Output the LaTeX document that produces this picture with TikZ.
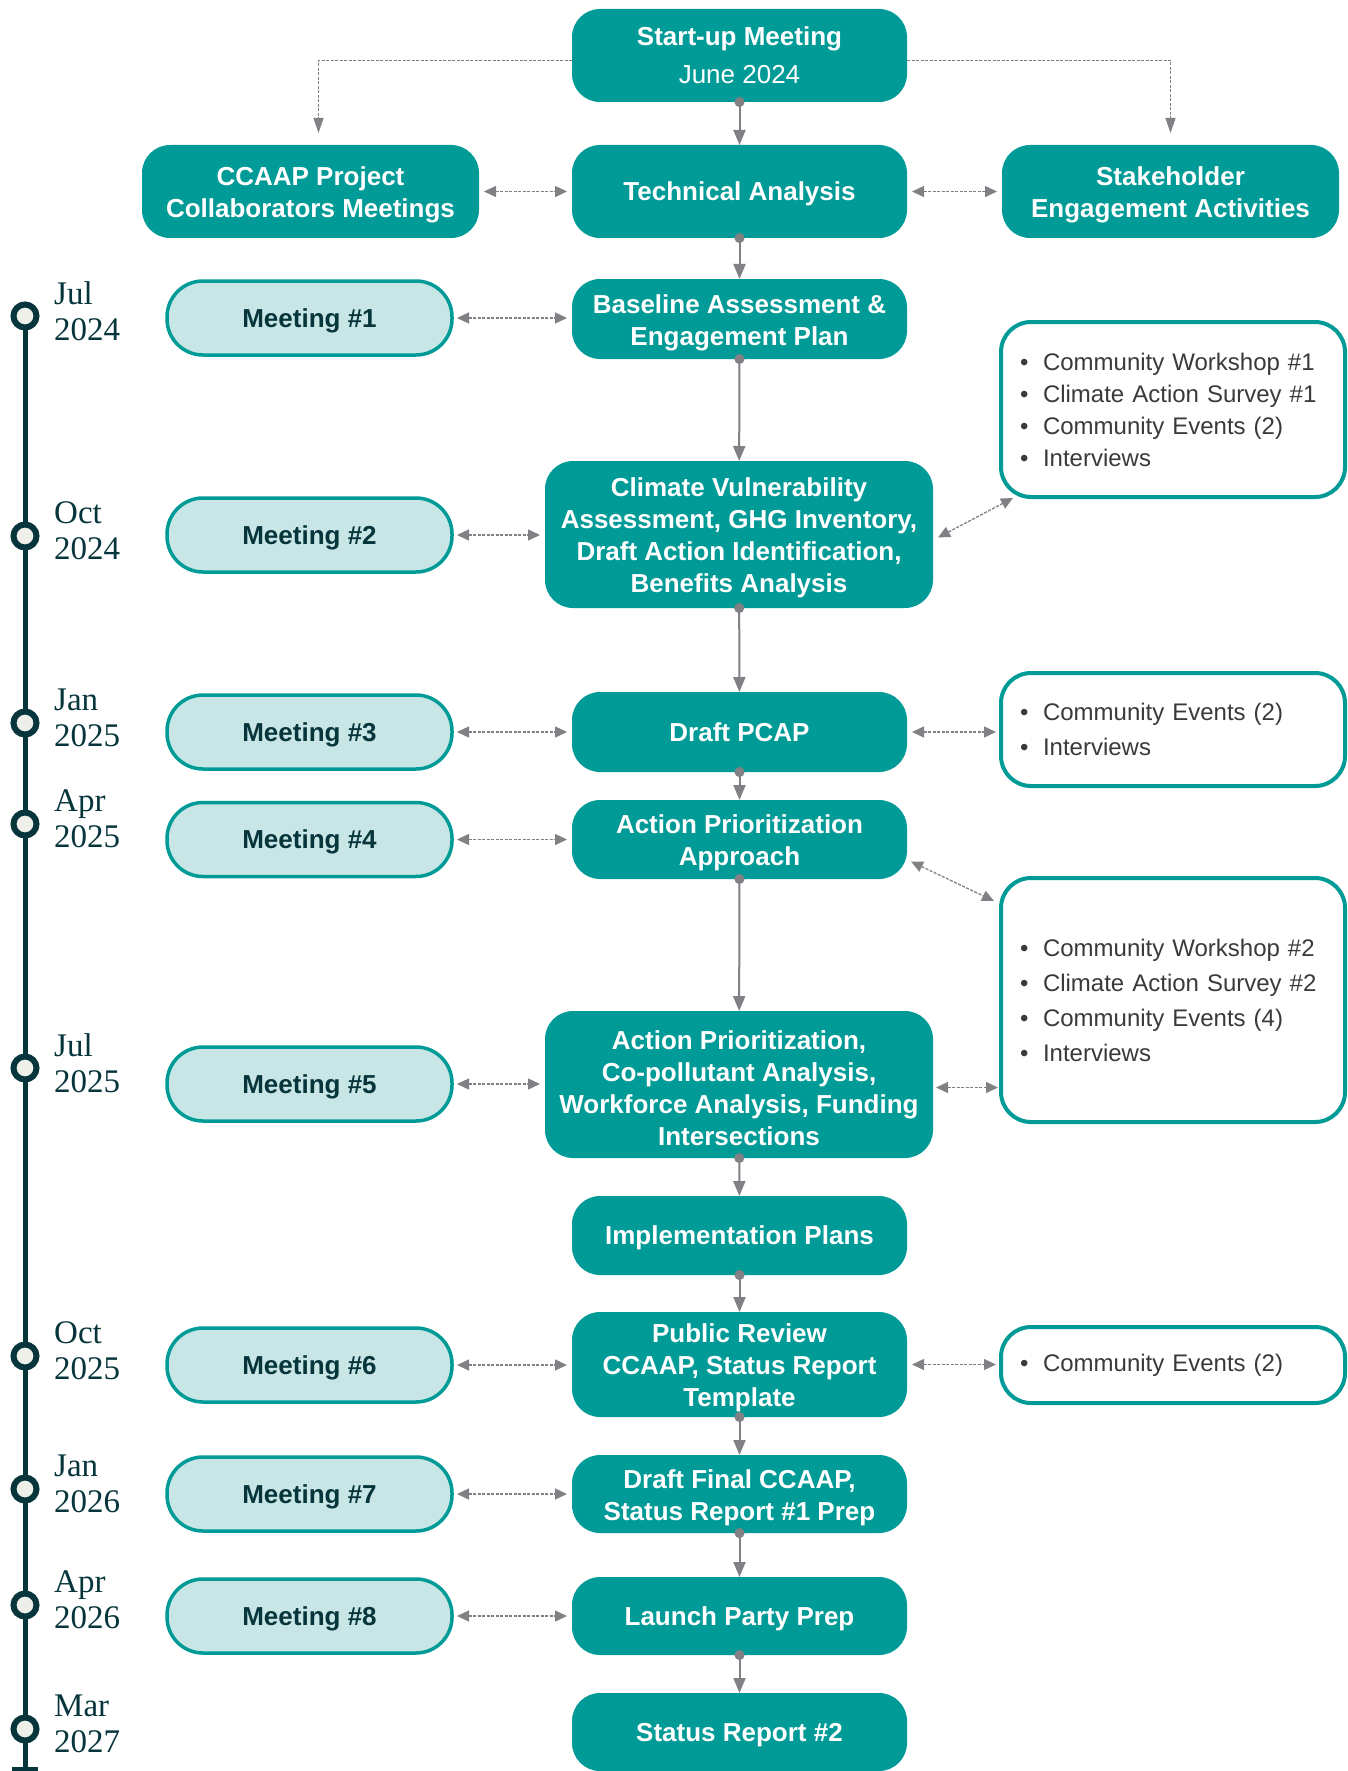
\documentclass[tikz,border=0pt]{standalone}
\usepackage{fontspec}
\newfontfamily\sansf{Liberation Sans}
\newfontfamily\seriff{Liberation Serif}
\usetikzlibrary{arrows.meta}
\definecolor{tealA}{HTML}{009A97}
\definecolor{meetfill}{HTML}{C8E6E5}
\definecolor{darkT}{HTML}{07353C}
\definecolor{dotfill}{HTML}{EFEFEA}
\definecolor{arrowG}{HTML}{808085}
\definecolor{bultext}{HTML}{3A3A3A}
\newcommand{\bl}{\makebox[23pt][l]{\textbullet}}
\newcommand{\tp}{\rule{0pt}{26pt}}
\begin{document}
\begin{tikzpicture}[x=1pt,y=-1pt,
  mainbox/.style={rectangle, rounded corners=28pt, fill=tealA, text=white,
    font=\sansf\bfseries\fontsize{26}{32}\selectfont, align=center,
    minimum width=335pt, minimum height=#1, inner sep=0pt, outer sep=0pt},
  oneline/.style={text height=18.6pt, text depth=0pt},
  meet/.style={rectangle, rounded corners=36pt, fill=meetfill, draw=tealA, line width=3.5pt,
    text=darkT, font=\sansf\bfseries\fontsize{26}{32}\selectfont,
    minimum width=285pt, minimum height=74pt, inner sep=0pt, outer sep=0pt, oneline},
  bbox/.style={rectangle, rounded corners=30pt, fill=white, draw=tealA, line width=4pt,
    text=bultext, align=left, text width=306pt, inner xsep=19pt, inner ysep=0pt,
    minimum height=#1, outer sep=0pt},
  datelbl/.style={anchor=west, align=left, text=darkT, inner sep=0pt,
    font=\seriff\fontsize{33}{36}\selectfont},
  tlcirc/.style={circle, draw=darkT, fill=dotfill, line width=6pt, minimum size=23pt, inner sep=0pt},
  tline/.style={draw=darkT, line width=5pt},
  flow/.style={draw=arrowG, line width=2pt, {Circle[length=10pt]}-{Triangle[length=15pt,width=12pt]}, shorten <=-5pt},
  dbl/.style={draw=arrowG, line width=1.3pt, dash pattern=on 3pt off 1.5pt,
    {Triangle[length=12pt,width=11pt]}-{Triangle[length=12pt,width=11pt]}, shorten <=5pt, shorten >=5pt},
  dbln/.style={draw=arrowG, line width=1.3pt, dash pattern=on 3pt off 1.5pt,
    {Triangle[length=12pt,width=11pt]}-{Triangle[length=12pt,width=11pt]}},
  dsh/.style={draw=arrowG, line width=1.1pt, dash pattern=on 3pt off 1.5pt,
    -{Triangle[length=15pt,width=10pt]}}
]
\useasboundingbox (0,0) rectangle (1348,1771);

% timeline
\coordinate (tltop) at (25,316);
\coordinate (tlbot) at (25,1769);
\draw[tline] (tltop) -- (tlbot);
\draw[tline] ([xshift=-13pt]tlbot) -- ([xshift=13pt]tlbot);
\foreach \yy/\mm/\yr [count=\i] in {316/Jul/2024, 536/Oct/2024, 723/Jan/2025, 824/Apr/2025,
    1068/Jul/2025, 1356/Oct/2025, 1489/Jan/2026, 1605/Apr/2026, 1729/Mar/2027}{
  \node[tlcirc] (k\i) at (25,\yy) {};
  \node[datelbl] (d\i) at (54,\yy-5) {\mm\\\yr};
}

% main column
\node[mainbox=93pt] (start) at (739.5,55.5) {Start-up Meeting\\[6pt]{\mdseries June 2024}};
\node[mainbox=93pt, oneline] (tech) at (739.5,191.5) {Technical Analysis};
\node[mainbox=93pt, minimum width=337pt] (ccaap) at (310.5,191.5) {\tp CCAAP Project\\Collaborators Meetings};
\node[mainbox=93pt, minimum width=337pt] (stake) at (1170.5,191.5) {\tp Stakeholder\\Engagement Activities};
\node[mainbox=80pt] (base) at (739.5,319) {\tp Baseline Assessment \&\\Engagement Plan};
\node[mainbox=147pt, minimum width=388pt] (climate) at (739,534.5) {\tp Climate Vulnerability\\Assessment, GHG Inventory,\\Draft Action Identification,\\Benefits Analysis};
\node[mainbox=80pt, oneline] (pcap) at (739.5,732) {Draft PCAP};
\node[mainbox=79pt] (apa) at (739.5,839.5) {\tp Action Prioritization\\Approach};
\node[mainbox=147pt, minimum width=388pt] (ap) at (739,1084.5) {\tp Action Prioritization,\\Co-pollutant Analysis,\\Workforce Analysis, Funding\\Intersections};
\node[mainbox=79pt, oneline] (impl) at (739.5,1235.5) {Implementation Plans};
\node[mainbox=105pt] (pub) at (739.5,1364.5) {\tp Public Review\\CCAAP, Status Report\\Template};
\node[mainbox=78pt] (dfinal) at (739.5,1494) {\tp Draft Final CCAAP,\\Status Report \#1 Prep};
\node[mainbox=78pt, oneline] (launch) at (739.5,1616) {Launch Party Prep};
\node[mainbox=78pt, oneline] (status) at (739.5,1732) {Status Report \#2};

% meetings
\node[meet] (m1) at (309.5,318) {Meeting \#1};
\node[meet] (m2) at (309.5,535) {Meeting \#2};
\node[meet] (m3) at (309.5,732) {Meeting \#3};
\node[meet] (m4) at (309.5,839.5) {Meeting \#4};
\node[meet] (m5) at (309.5,1084) {Meeting \#5};
\node[meet] (m6) at (309.5,1365) {Meeting \#6};
\node[meet] (m7) at (309.5,1494) {Meeting \#7};
\node[meet] (m8) at (309.5,1616) {Meeting \#8};

% bullet boxes
\node[bbox=175pt, font=\sansf\fontsize{24}{32}\selectfont] (ba) at (1173,409.5)
  {\bl Community Workshop \#1\\\bl Climate Action Survey \#1\\\bl Community Events (2)\\\bl Interviews};
\node[bbox=113pt, font=\sansf\fontsize{24}{35}\selectfont] (bb) at (1173,729.5)
  {\bl Community Events (2)\\\bl Interviews};
\node[bbox=244pt, font=\sansf\fontsize{24}{35}\selectfont] (bc) at (1173,1000)
  {\bl Community Workshop \#2\\\bl Climate Action Survey \#2\\\bl Community Events (4)\\\bl Interviews};
\node[bbox=76pt, font=\sansf\fontsize{24}{35}\selectfont] (bd) at (1173,1365)
  {\bl Community Events (2)};

% main flow
\draw[flow] (start) -- (tech);
\draw[flow] (tech) -- (base);
\draw[flow] (base) -- (climate);
\draw[flow] (climate) -- (pcap);
\draw[flow] (pcap) -- (apa);
\draw[flow] (apa) -- (ap);
\draw[flow] (ap) -- (impl);
\draw[flow] (impl) -- (pub);
\draw[flow] (pub) -- (dfinal);
\draw[flow] (dfinal) -- (launch);
\draw[flow] (launch) -- (status);

% top elbows
\draw[dsh] ([yshift=-5pt]start.west) -| ([xshift=8pt,yshift=12pt]ccaap.north);
\draw[dsh] ([yshift=-5pt]start.east) -| ([yshift=12pt]stake.north);

% horizontal double arrows
\draw[dbl] (ccaap.east) -- (tech.west);
\draw[dbl] (tech.east) -- (stake.west);
\draw[dbl] (m1.east) -- (m1.east -| base.west);
\draw[dbl] (m2.east) -- (m2.east -| climate.west);
\draw[dbl] (m3.east) -- (m3.east -| pcap.west);
\draw[dbl] (m4.east) -- (m4.east -| apa.west);
\draw[dbl] (m5.east) -- (m5.east -| ap.west);
\draw[dbl] (m6.east) -- (m6.east -| pub.west);
\draw[dbl] (m7.east) -- (m7.east -| dfinal.west);
\draw[dbl] (m8.east) -- (m8.east -| launch.west);
\draw[dbl] (pcap.east) -- (pcap.east -| bb.west);
\draw[dbl, shorten <=3pt, shorten >=3pt] ([yshift=-3pt]ap.east) -- ([yshift=-3pt]ap.east -| bc.west);
\draw[dbl] (pub.east) -- (pub.east -| bd.west);
% diagonal double arrows
\draw[dbln] ([xshift=5pt,yshift=-3pt]climate.east) -- ([xshift=12pt,yshift=-1pt]ba.south west);
\draw[dbln] ([xshift=4pt,yshift=-22pt]apa.east) -- ([xshift=-7pt,yshift=-23pt]bc.north west);
\end{tikzpicture}
\end{document}
